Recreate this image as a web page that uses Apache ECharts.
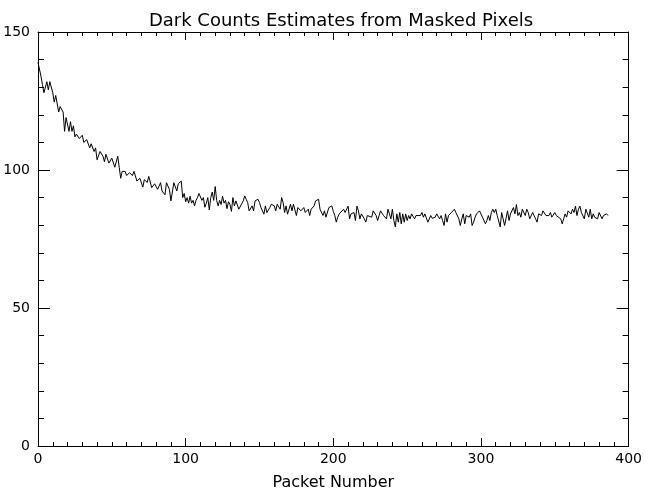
<!DOCTYPE html>
<html>
<head>
<meta charset="utf-8">
<script src="https://cdn.jsdelivr.net/npm/echarts@6/dist/echarts.min.js"></script>
<style>
html,body{margin:0;padding:0;background:#fff;}
#dark{width:645px;height:496px;}
</style>
</head>
<body>
<div id="dark"></div>
<script>
var titleText = "Dark Counts Estimates from Masked Pixels";
var xName = "Packet Number";
var xTicks = [0, 100, 200, 300, 400];
var yTicks = [0, 50, 100, 150];

// packet number / estimated dark counts
var packets = [
    0,2,3,4,6,7,8,10,11,12,14,15,17,18,19,21,22,23,24,25,26,28,30,31,33,35,36,38,39,40,
    42,44,45,46,48,50,52,54,55,56,57,59,60,62,64,
    65,67,69,71,72,74,75,77,79,81,83,84,86,87,89,90,92,94,95,97,
    98,99,100,101,102,103,104,105,106,107,108,109,110,111,112,113,114,115,116,117,118,119,
    120,121,122,123,124,125,126,127,128,129,130,131,132,133,
    134,136,137,139,140,141,142,143,145,146,147,149,150,151,153,154,155,157,158,160,161,162,
    164,165,166,167,168,169,171,172,173,175,176,177,178,180,181,183,184,185,187,188,190,191,
    193,194,195,197,198,199,
    200,201,202,203,204,205,207,208,210,211,212,214,215,216,217,218,219,221,222,223,224,226,
    227,228,229,230,231,232,234,235,236,237,238,239,240,241,242,243,244,245,246,247,248,249,
    250,251,252,253,255,256,257,259,260,261,262,264,265,266,267,
    269,270,272,273,274,275,276,277,278,280,281,282,283,284,285,286,287,288,289,290,292,293,
    294,295,296,297,299,300,301,303,304,305,306,307,308,309,310,311,312,313,314,315,316,318,
    319,320,321,322,323,324,325,326,327,328,330,331,332,333,335,
    336,337,338,339,340,341,342,344,345,346,347,348,349,350,351,352,354,355,356,357,358,359,
    361,362,363,364,365,366,367,368,370,371,372,373,374,375,376,377,379,380,381,382,383,384,
    385,386
];
var counts = [
    139,134,131,128,132,129,132,128,124.6,127,121,123,121,114,119,114,117.5,114,116,112,113,111.4,112.6,110,111,108,109.5,106.7,108,103.7,
    106.7,105,103,105.7,102.5,104.3,101,105,101,97,99.5,99.5,98,99,98,
    99.5,96,97,93.8,96.5,95.5,97.7,93.6,95,93,95.4,92.4,91,95.4,93,88.8,95.4,92.4,95,96,
    90,91.5,88.5,90,88,90.5,88,89,87,89,90,91.5,92,89,90,86.5,88,90,85.5,90,92,89,
    94,89,87,89,87.5,90.5,88,89,86,88.5,87.5,85,90,87,
    88.8,85.8,86.4,88.8,90.6,89.4,88.2,85.2,87,85.2,88.8,89.4,88.2,86.4,84,87,84.6,86.4,87.6,87,85.2,87.6,
    85.8,90,88.2,84.6,87,84,87.6,85.2,87.6,83.5,86.4,85.8,85.2,86.4,84.6,85.8,83.5,85.8,87,88.8,89.4,85.8,
    83.5,85.2,82.9,86.4,85.8,87,
    85,83.5,81.1,82.9,84.1,83.5,85.8,84.6,86.9,82.3,84.1,84.6,81.7,86.9,85.2,82.3,84.1,82.3,81.1,83.5,84.1,82.9,
    85.2,84.6,83.5,81.7,83.5,85.2,83.5,84.1,82.3,85.8,84.1,82.3,85.8,81.7,79.4,84.1,81.1,84.6,80.5,84.1,81.1,84.1,
    81.7,83.5,82.3,84.1,82.3,83.5,82.9,83.5,84.6,82.9,84.1,81.1,81.7,83.5,82.5,
    82.9,84.1,82.3,83.5,81.7,79.9,84.1,81.1,83.5,84.6,84.1,85.8,84.6,85.2,82.3,79.9,82.3,84.1,80.5,83.5,82.9,84.1,
    79.9,81.1,82.9,84.1,85.2,85.8,82.9,80.5,81.7,83.5,81.7,84.6,85.8,84.6,85.8,83.5,82.9,79.4,84.6,82.3,79.9,85.2,
    81.7,84.1,83.5,86.4,84.1,87.5,83.5,84.6,82.9,85.8,83.5,85.8,84.6,82.3,84.6,
    85.2,82.3,81.1,84.1,84.6,83.5,85.2,83.5,84.1,83.5,84.6,82.9,82.3,84.6,83.5,84.1,82.3,80.5,82.3,84.1,82.9,85.2,
    84.1,85.8,84.6,86.9,83.5,85.8,86.9,84.6,82.3,85.8,85.2,82.9,85.8,82.3,84.1,82.9,82.3,84.6,84.1,82.3,83.5,82.9,
    84.1,83.5
];

var FONT = "DejaVu Sans";

function buildSeries() {
    var pts = [];
    for (var i = 0; i < packets.length; i++) {
        pts.push([packets[i], counts[i]]);
    }
    return pts;
}

function xAxisOpt(pos, showLabel) {
    return {
        type: 'value',
        position: pos,
        min: xTicks[0],
        max: xTicks[xTicks.length - 1],
        interval: 100,
        name: showLabel ? xName : '',
        nameLocation: 'middle',
        nameGap: 29,
        nameTextStyle: {color: '#000', fontFamily: FONT, fontSize: 16},
        axisLine: {show: true, onZero: false, lineStyle: {color: '#000', width: 1}},
        axisTick: {show: true, inside: true, length: 8, lineStyle: {color: '#000'}},
        minorTick: {show: true, splitNumber: 10, length: 4, lineStyle: {color: '#000'}},
        axisLabel: {show: showLabel, color: '#000', fontFamily: FONT, fontSize: 14, margin: 6},
        splitLine: {show: false}
    };
}

function yAxisOpt(pos, showLabel) {
    return {
        type: 'value',
        position: pos,
        min: yTicks[0],
        max: yTicks[yTicks.length - 1],
        interval: 50,
        axisLine: {show: true, onZero: false, lineStyle: {color: '#000', width: 1}},
        axisTick: {show: true, inside: true, length: 12, lineStyle: {color: '#000'}},
        minorTick: {show: true, splitNumber: 5, length: 6, lineStyle: {color: '#000'}},
        axisLabel: {show: showLabel, color: '#000', fontFamily: FONT, fontSize: 14, margin: 8},
        splitLine: {show: false}
    };
}

var option = {
    animation: false,
    backgroundColor: '#fff',
    title: {
        text: titleText,
        left: 336,
        textAlign: 'center',
        top: 7,
        textStyle: {color: '#000', fontFamily: FONT, fontSize: 18, fontWeight: 'normal'}
    },
    grid: {left: 38, right: 14, top: 32, bottom: 44, containLabel: false},
    xAxis: [xAxisOpt('bottom', true), xAxisOpt('top', false)],
    yAxis: [yAxisOpt('left', true), yAxisOpt('right', false)],
    series: [
        {
            type: 'line',
            xAxisIndex: 0,
            yAxisIndex: 0,
            data: buildSeries(),
            showSymbol: false,
            symbol: 'none',
            lineStyle: {color: '#000', width: 1},
            z: 5
        }
    ]
};

var myChart = echarts.init(document.getElementById('dark'));
myChart.setOption(option);
</script>
</body>
</html>
